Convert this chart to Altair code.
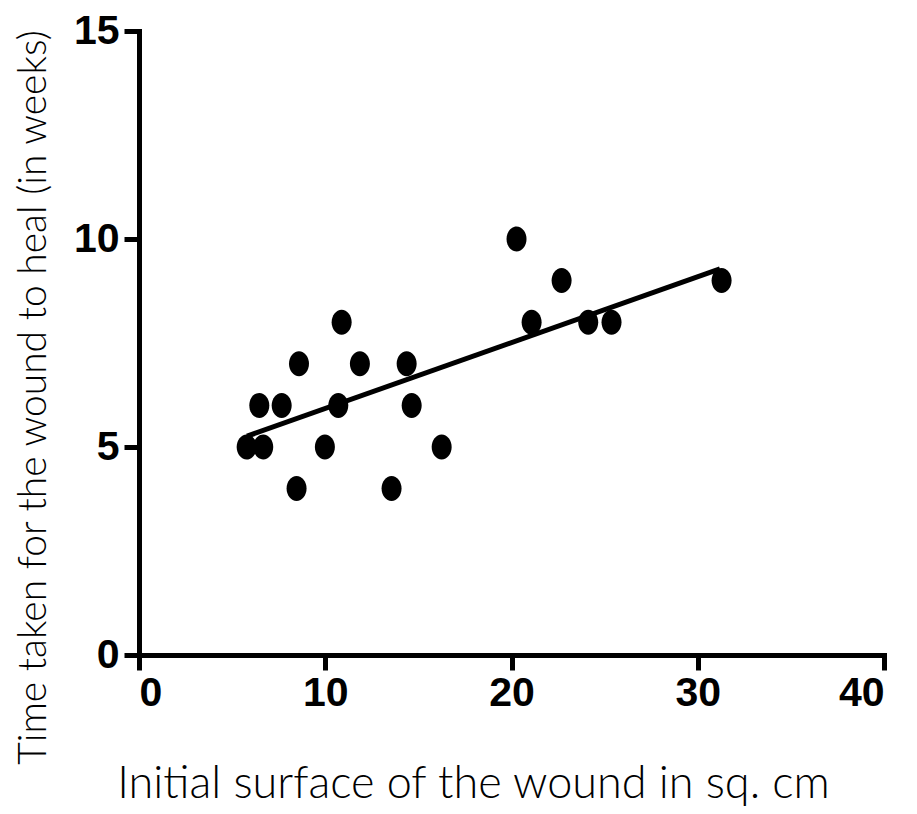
import altair as alt
import pandas as pd

# Data
surface = [5.78, 6.67, 6.46, 7.66, 8.59, 8.46, 9.98, 10.70, 10.88, 11.86,
           13.56, 14.37, 14.64, 16.25, 20.27, 21.08, 22.69, 24.12, 25.37, 31.28]
weeks = [5, 5, 6, 6, 7, 4, 5, 6, 8, 7,
         4, 7, 6, 5, 10, 8, 9, 8, 8, 9]

fit_x = [5.80, 31.19]
fit_y = [5.26, 9.28]

x_ticks = [0, 10, 20, 30, 40]
y_ticks = [0, 5, 10, 15]

pts = pd.DataFrame({"x": surface, "y": weeks})
fit = pd.DataFrame({"x": fit_x, "y": fit_y})

label_font = "Liberation Sans, Arial, sans-serif"
title_font = "Lato, Open Sans, sans-serif"

TOP = 23
W, H = 745, 624

x_enc = alt.X(
    "x:Q",
    scale=alt.Scale(domain=[0, 40], nice=False, zero=False),
    axis=alt.Axis(
        values=x_ticks, title="Initial surface of the wound in sq. cm",
        titleX=334, titleY=142, titleAlign="center", titleBaseline="alphabetic",
        titleFontSize=45,
    ),
)
y_enc = alt.Y(
    "y:Q",
    scale=alt.Scale(domain=[0, 15], nice=False, zero=False),
    axis=alt.Axis(
        values=y_ticks, title="Time taken for the wound to heal (in weeks)",
        titleX=-94, titleY=366, titleAngle=270, titleAlign="center",
        titleBaseline="alphabetic", titleFontSize=39,
    ),
)

ellipse = "M0,-1.25 A1,1.25 0 1,1 0,1.25 A1,1.25 0 1,1 0,-1.25 Z"

points = alt.Chart(pts).mark_point(
    filled=True, shape=ellipse, size=400, color="black", opacity=1
).encode(x=x_enc, y=y_enc)

line = alt.Chart(fit).mark_line(color="black", strokeWidth=5).encode(
    x="x:Q", y="y:Q"
)

chart = (
    alt.layer(line, points)
    .properties(
        width=W, height=H,
        autosize=alt.AutoSizeParams(type="none"),
        padding={"left": 131, "top": TOP, "right": 25, "bottom": 798 - TOP - H},
        background="white",
    )
    .configure_view(stroke=None)
    .configure_axis(
        grid=False,
        domainColor="black", domainWidth=5, domainCap="square",
        tickColor="black", tickWidth=5, tickSize=15,
        labelFont=label_font, labelFontSize=41, labelFontWeight="bold",
        labelColor="black", labelPadding=3,
        titleFont=title_font, titleFontWeight=300,
        titleColor="#000000",
    )
    .configure_axisY(labelPadding=5)
)

chart.save("out.html", embed_options={"renderer": "svg", "actions": False})
